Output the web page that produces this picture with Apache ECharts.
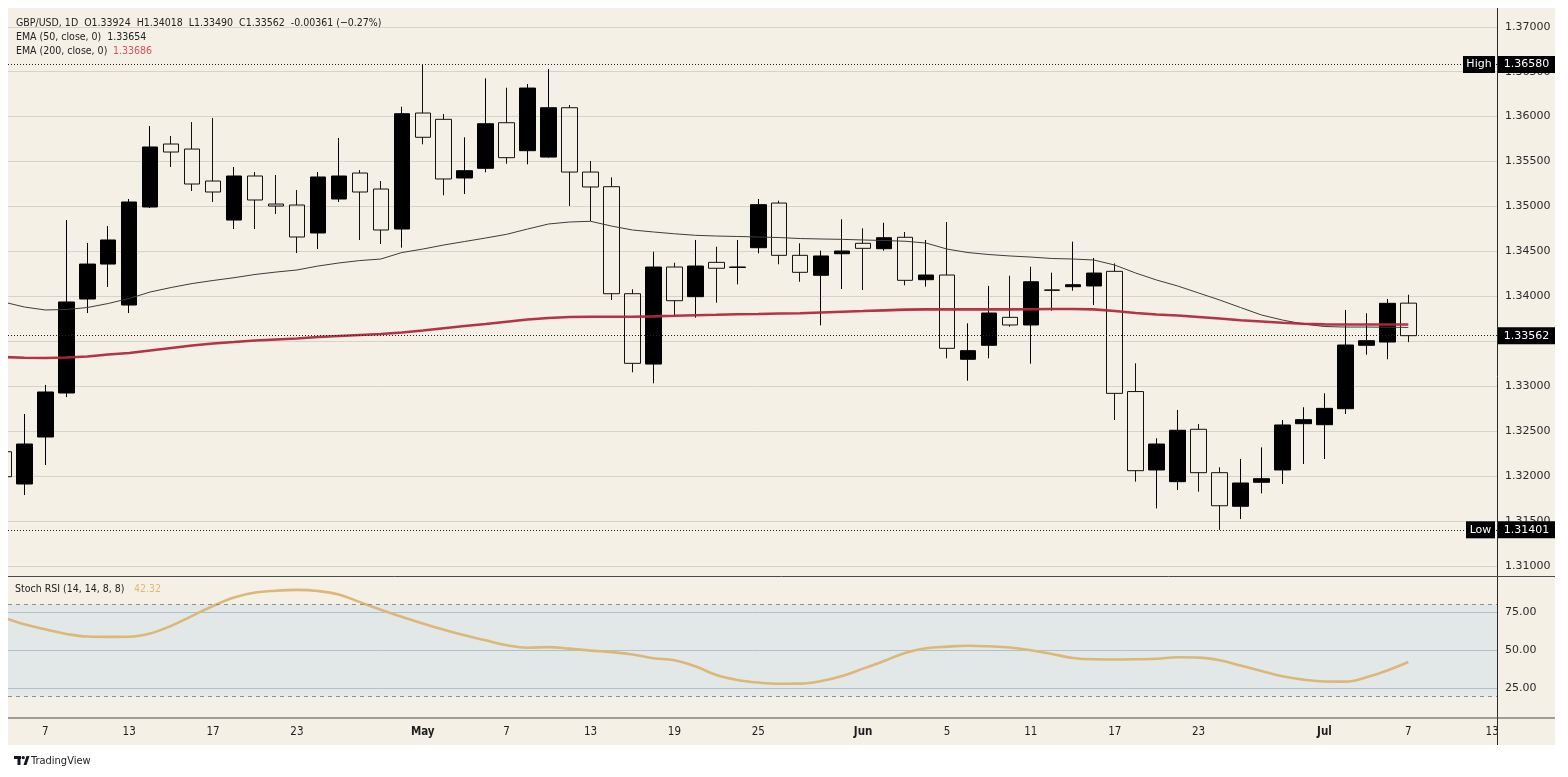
<!DOCTYPE html>
<html><head><meta charset="utf-8">
<script src="https://cdn.jsdelivr.net/npm/echarts@6/dist/echarts.min.js"></script>
<style>
html,body{margin:0;padding:0;background:#fff;width:1568px;height:777px;overflow:hidden}
#bg{position:absolute;left:8px;top:8px;width:1547px;height:737px;background:#f5f0e6}
#c{position:absolute;left:0;top:0;width:1568px;height:777px}
</style></head><body>
<div id="bg"></div><div id="c"></div>
<script>
// ---- data ----
const dates = ['04-03','04-06','04-07','04-08','04-09','04-10','04-13','04-14','04-15','04-16','04-17',
 '04-20','04-21','04-22','04-23','04-24','04-27','04-28','04-29','04-30','05-01',
 '05-04','05-05','05-06','05-07','05-08','05-11','05-12','05-13','05-14','05-15',
 '05-18','05-19','05-20','05-21','05-22','05-25','05-26','05-27','05-28','05-29',
 '06-01','06-02','06-03','06-04','06-05','06-08','06-09','06-10','06-11','06-12',
 '06-15','06-16','06-17','06-18','06-19','06-22','06-23','06-24','06-25','06-26',
 '06-29','06-30','07-01','07-02','07-03','07-06','07-07'];
const open = [1.32270,1.31911,1.32434,1.32924,1.33970,1.34359,1.33903,1.34994,1.35695,1.35639,1.35283,
 1.34849,1.35339,1.35027,1.35016,1.34705,1.35083,1.35372,1.35194,1.34749,1.36040,
 1.35970,1.35317,1.35425,1.35932,1.35621,1.35550,1.36099,1.35383,1.35220,1.34029,
 1.33246,1.34326,1.33996,1.34378,1.34322,1.34541,1.35038,1.34456,1.34234,1.34474,
 1.34590,1.34530,1.34657,1.34185,1.34237,1.33299,1.33455,1.33766,1.33681,1.34068,
 1.34107,1.34115,1.34278,1.32940,1.32067,1.31937,1.32520,1.32037,1.31663,1.31930,
 1.32067,1.32582,1.32571,1.32749,1.33455,1.33491,1.33924];
const high = [1.32334,1.32690,1.33013,1.34849,1.34593,1.34782,1.35083,1.35895,1.35784,1.35940,1.35984,
 1.35439,1.35383,1.35350,1.35183,1.35383,1.35762,1.35406,1.35283,1.36110,1.36580,
 1.36029,1.35770,1.36426,1.36322,1.36363,1.36530,1.36129,1.35506,1.35324,1.34078,
 1.34496,1.34374,1.34627,1.34552,1.34627,1.35083,1.35064,1.34590,1.34508,1.34857,
 1.34757,1.34819,1.34716,1.34627,1.34827,1.33699,1.34115,1.34229,1.34329,1.34263,
 1.34608,1.34426,1.34367,1.33254,1.32420,1.32735,1.32579,1.32097,1.32189,1.32319,
 1.32623,1.32765,1.32920,1.33848,1.33811,1.33970,1.34018];
const low = [1.31955,1.31788,1.32122,1.32879,1.33814,1.34104,1.33814,1.34983,1.35439,1.35172,1.35050,
 1.34749,1.34749,1.34916,1.34482,1.34526,1.35050,1.34627,1.34582,1.34541,1.35692,
 1.35124,1.35139,1.35380,1.35476,1.35469,1.35543,1.35005,1.34838,1.33959,1.33154,
 1.33032,1.33773,1.33762,1.33929,1.34134,1.34479,1.34356,1.34162,1.33677,1.34081,
 1.34070,1.34508,1.34122,1.34107,1.33310,1.33061,1.33310,1.33662,1.33250,1.33840,
 1.34062,1.33903,1.32623,1.31937,1.31640,1.31844,1.31825,1.31401,1.31521,1.31807,
 1.31911,1.32134,1.32189,1.32690,1.33350,1.33299,1.33490];
const close = [1.31992,1.32356,1.32935,1.33937,1.34359,1.34627,1.35050,1.35662,1.35606,1.35250,1.35161,
 1.35339,1.35072,1.35005,1.34660,1.35328,1.35339,1.35161,1.34738,1.36032,1.35770,
 1.35306,1.35398,1.35921,1.35543,1.36318,1.36099,1.35383,1.35217,1.34029,1.33254,
 1.34326,1.33951,1.34337,1.34312,1.34326,1.35020,1.34456,1.34267,1.34449,1.34504,
 1.34534,1.34652,1.34178,1.34237,1.33421,1.33395,1.33814,1.33681,1.34162,1.34070,
 1.34129,1.34259,1.32920,1.32059,1.32356,1.32509,1.32037,1.31669,1.31922,1.31970,
 1.32568,1.32627,1.32753,1.33458,1.33506,1.33922,1.33562];
const ema50 = [1.33937,1.33881,1.33848,1.33853,1.33875,1.33920,1.33976,1.34048,1.34098,1.34142,1.34176,
 1.34207,1.34243,1.34270,1.34293,1.34337,1.34371,1.34398,1.34415,1.34487,1.34526,
 1.34571,1.34610,1.34649,1.34690,1.34749,1.34805,1.34827,1.34835,1.34782,1.34738,
 1.34716,1.34696,1.34679,1.34671,1.34666,1.34660,1.34654,1.34643,1.34638,1.34634,
 1.34627,1.34621,1.34613,1.34593,1.34526,1.34487,1.34465,1.34449,1.34437,1.34421,
 1.34415,1.34404,1.34348,1.34259,1.34181,1.34115,1.34037,1.33959,1.33875,1.33792,
 1.33736,1.33692,1.33664,1.33658,1.33658,1.33656,1.33654];
const ema200 = [1.33324,1.33316,1.33313,1.33319,1.33330,1.33352,1.33369,1.33397,1.33425,1.33452,1.33475,
 1.33491,1.33508,1.33519,1.33530,1.33547,1.33558,1.33569,1.33580,1.33597,1.33619,
 1.33644,1.33669,1.33692,1.33717,1.33742,1.33758,1.33770,1.33773,1.33773,1.33773,
 1.33777,1.33783,1.33790,1.33794,1.33800,1.33803,1.33809,1.33811,1.33820,1.33829,
 1.33836,1.33844,1.33852,1.33855,1.33855,1.33855,1.33855,1.33855,1.33856,1.33858,
 1.33859,1.33855,1.33836,1.33814,1.33797,1.33786,1.33770,1.33753,1.33734,1.33720,
 1.33705,1.33695,1.33688,1.33687,1.33686,1.33686,1.33686];
const stochRsi = [71.5,67,63.7,60.7,59,58.8,58.9,61,66,72.5,79,
 84.5,87.8,89,89.5,88.8,86.5,81.5,76.5,72,67.5,
 63.5,59.8,56.5,53.3,51.7,52.1,51.1,49.8,48.8,47.3,
 44.8,43.5,39.5,33.8,30.6,28.9,28.1,28.2,29.9,33.2,
 38,43,48.3,51.3,52.4,53,52.6,51.8,50,47.6,
 45,44.1,44,44.1,44.5,45.4,45.2,43.5,40,36.5,
 33,30.8,29.6,29.5,32.3,36.8,42.32];
const xTickIndex = [2,6,10,14,20,24,28,32,36,41,45,49,53,57,63,67,71];
const xTickLabels = ['7','13','17','23','May','7','13','19','25','Jun','5','11','17','23','Jul','7','13'];
const monthLabels = ['May','Jun','Jul'];
const highValue = 1.36580, lowValue = 1.31401, lastValue = 1.33562;
const stochBands = [20, 80];

// ---- chart ----
const FONT = "'DejaVu Sans', sans-serif";
const FONTC = "'DejaVu Sans Condensed', 'DejaVu Sans', sans-serif";
const XMIN = 0.22, XMAX = 71.23;
const PMIN = 1.30887, PMAX = 1.37209;
const SMIN = 5.9, SMAX = 98.6;

const chart = echarts.init(document.getElementById('c'), null, {renderer: 'canvas'});
const candles = dates.map((d, i) => [i, open[i], close[i], low[i], high[i]]);

const option = {
  animation: false,
  backgroundColor: 'transparent',
  grid: [
    {left: 8, top: 8, width: 1489, height: 568},
    {left: 8, top: 576, width: 1489, height: 141.7}
  ],
  xAxis: [
    {type: 'value', gridIndex: 0, min: XMIN, max: XMAX, show: false},
    {type: 'value', gridIndex: 1, min: XMIN, max: XMAX, minInterval: 1, maxInterval: 1,
     axisLine: {show: false}, axisTick: {show: false}, splitLine: {show: false},
     axisLabel: {
       margin: 8, showMinLabel: false, showMaxLabel: false,
       formatter: v => {
         const r = Math.round(v);
         if (Math.abs(v - r) > 1e-6) return '';
         const i = xTickIndex.indexOf(r);
         if (i < 0) return '';
         const t = xTickLabels[i];
         return monthLabels.includes(t) ? '{m|' + t + '}' : '{d|' + t + '}';
       },
       rich: {
         m: {fontFamily: FONTC, fontSize: 11.5, fontWeight: 'bold', color: '#1e1e1e'},
         d: {fontFamily: FONTC, fontSize: 11.5, color: '#1e1e1e'}
       }
     }}
  ],
  yAxis: [
    {type: 'value', gridIndex: 0, position: 'right', min: PMIN, max: PMAX,
     minInterval: 0.005, maxInterval: 0.005, splitNumber: 12,
     axisLine: {show: false}, axisTick: {show: false},
     splitLine: {show: true, showMinLine: false, showMaxLine: false, lineStyle: {color: '#d6d3cb', width: 1}},
     axisLabel: {margin: 8, showMinLabel: false, showMaxLabel: false, color: '#2b2b2b',
       fontFamily: FONT, fontSize: 11, formatter: v => v.toFixed(5)}},
    {type: 'value', gridIndex: 1, position: 'right', min: SMIN, max: SMAX,
     minInterval: 25, maxInterval: 25,
     axisLine: {show: false}, axisTick: {show: false},
     splitLine: {show: true, showMinLine: false, showMaxLine: false, lineStyle: {color: '#bfc4c6', width: 1}},
     axisLabel: {margin: 8, showMinLabel: false, showMaxLabel: false, color: '#2b2b2b',
       fontFamily: FONT, fontSize: 11, formatter: v => v.toFixed(2)}}
  ],
  series: [
    {
      type: 'candlestick', name: 'GBP/USD', xAxisIndex: 0, yAxisIndex: 0,
      data: candles, barWidth: 16,
      itemStyle: {color: '#000', color0: 'rgba(0,0,0,0)', borderColor: '#000', borderColor0: '#111', borderWidth: 1},
      markLine: {
        silent: true, symbol: 'none', precision: 6, label: {show: false},
        lineStyle: {type: [1, 2], color: '#222', width: 1},
        data: [{yAxis: highValue}, {yAxis: lowValue}, {yAxis: lastValue}]
      }
    },
    {
      type: 'line', name: 'EMA 50', xAxisIndex: 0, yAxisIndex: 0,
      data: ema50.map((v, i) => [i, v]), showSymbol: false, symbol: 'none',
      lineStyle: {color: '#3c3c3c', width: 1}
    },
    {
      type: 'line', name: 'EMA 200', xAxisIndex: 0, yAxisIndex: 0,
      data: ema200.map((v, i) => [i, v]), showSymbol: false, symbol: 'none',
      lineStyle: {color: '#b0283b', width: 2.6, opacity: 0.95}
    },
    {
      type: 'line', name: 'Stoch RSI', xAxisIndex: 1, yAxisIndex: 1,
      data: stochRsi.map((v, i) => [i, v]), showSymbol: false, symbol: 'none', smooth: 0.4,
      lineStyle: {color: '#dbb877', width: 2.6},
      markArea: {silent: true, itemStyle: {color: 'rgba(33,150,243,0.09)'},
        data: [[{yAxis: stochBands[0]}, {yAxis: stochBands[1]}]]},
      markLine: {silent: true, symbol: 'none', precision: 4, label: {show: false},
        lineStyle: {type: [4, 4], color: '#8f8f8f', width: 1},
        data: [{yAxis: stochBands[0]}, {yAxis: stochBands[1]}]}
    }
  ]
};
chart.setOption(option);

const yH = chart.convertToPixel({yAxisIndex: 0}, highValue);
const yL = chart.convertToPixel({yAxisIndex: 0}, lowValue);
const yC = chart.convertToPixel({yAxisIndex: 0}, lastValue);

function tag(x, y, w, text) {
  return [
    {type: 'rect', z: 100, shape: {x: x, y: y - 8.5, width: w, height: 17}, style: {fill: '#000'}},
    {type: 'text', z: 101, style: {text: text, x: x + w / 2, y: y, fill: '#fff', font: '11px ' + FONT,
      align: 'center', verticalAlign: 'middle'}}
  ];
}
const hdr = '10.5px ' + FONTC;
const elements = [
  // white margin on the left so a partly visible candle is cut at the pane edge
  {type: 'rect', z: 95, shape: {x: 0, y: 0, width: 8, height: 777}, style: {fill: '#fff'}},
  {type: 'line', z: 90, shape: {x1: 1497.5, y1: 8, x2: 1497.5, y2: 745}, style: {stroke: '#2a2a2a', lineWidth: 1}},
  {type: 'line', z: 90, shape: {x1: 8, y1: 576.5, x2: 1555, y2: 576.5}, style: {stroke: '#4a4a4a', lineWidth: 1}},
  {type: 'line', z: 90, shape: {x1: 8, y1: 718, x2: 1555, y2: 718}, style: {stroke: '#4a4a4a', lineWidth: 1.2}},
  {type: 'text', z: 100, style: {text: 'GBP/USD, 1D  O1.33924  H1.34018  L1.33490  C1.33562  -0.00361 (\u22120.27%)',
    x: 16, y: 23, fill: '#222', font: hdr, verticalAlign: 'middle'}},
  {type: 'text', z: 100, style: {text: 'EMA (50, close, 0)  1.33654', x: 16, y: 37.5, fill: '#222', font: hdr, verticalAlign: 'middle'}},
  {type: 'text', z: 100, style: {text: 'EMA (200, close, 0)', x: 16, y: 51.5, fill: '#222', font: hdr, verticalAlign: 'middle'}},
  {type: 'text', z: 100, style: {text: '1.33686', x: 113, y: 51.5, fill: '#d2525f', font: hdr, verticalAlign: 'middle'}},
  {type: 'text', z: 100, style: {text: 'Stoch RSI (14, 14, 8, 8)', x: 15, y: 589, fill: '#222', font: hdr, verticalAlign: 'middle'}},
  {type: 'text', z: 100, style: {text: '42.32', x: 134, y: 589, fill: '#e2b870', font: hdr, verticalAlign: 'middle'}},
  // TradingView mark
  {type: 'rect', z: 100, shape: {x: 14, y: 756, width: 7, height: 3}, style: {fill: '#131722'}},
  {type: 'rect', z: 100, shape: {x: 17.5, y: 756, width: 3, height: 9}, style: {fill: '#131722'}},
  {type: 'circle', z: 100, shape: {cx: 23.2, cy: 757.6, r: 1.7}, style: {fill: '#131722'}},
  {type: 'polygon', z: 100, shape: {points: [[23.5, 765], [26.5, 756], [29.5, 756], [26.5, 765]]}, style: {fill: '#131722'}},
  {type: 'text', z: 100, style: {text: 'TradingView', x: 31, y: 761, fill: '#222', font: '11px ' + FONTC, verticalAlign: 'middle'}}
].concat(
  tag(1463, yH, 32, 'High'), tag(1498, yH, 57, highValue.toFixed(5)),
  tag(1466, yL, 29, 'Low'), tag(1498, yL, 57, lowValue.toFixed(5)),
  tag(1498, yC, 57, lastValue.toFixed(5))
);
chart.setOption({graphic: {elements: elements}});
</script>
</body></html>
